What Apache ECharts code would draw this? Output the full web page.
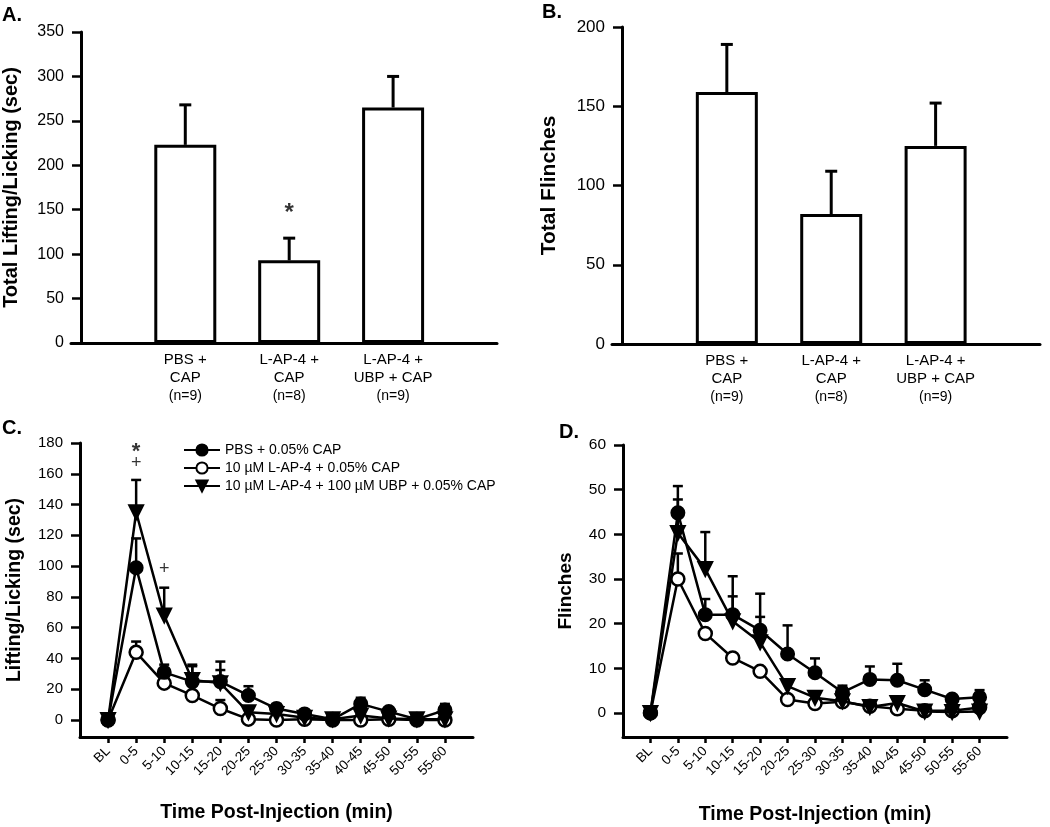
<!DOCTYPE html>
<html>
<head>
<meta charset="utf-8">
<script src="https://cdn.jsdelivr.net/npm/echarts@6/dist/echarts.min.js"></script>
<style>html,body{margin:0;padding:0;background:#fff}#c{width:1050px;height:827px}</style>
</head>
<body>
<div id="c"></div>
<script>
// ---- Data ----
const barCats = ['PBS +\nCAP\n(n=9)', 'L-AP-4 +\nCAP\n(n=8)', 'L-AP-4 +\nUBP + CAP\n(n=9)'];
const liftTotal = [223, 93, 265];
const liftTotalSem = [45, 25, 35];
const flinchTotal = [159, 82, 125];
const flinchTotalSem = [30, 27, 27];
const annotA = [[1, 146, '*']];

const timeLabels = ['BL','0-5','5-10','10-15','15-20','20-25','25-30','30-35','35-40','40-45','45-50','50-55','55-60'];
const seriesNames = ['PBS + 0.05% CAP', '10 \u00b5M L-AP-4 + 0.05% CAP', '10 \u00b5M L-AP-4 + 100 \u00b5M UBP + 0.05% CAP'];

const pbsLift     = [0, 99, 31, 25, 25, 16, 7.5, 4, 0.5, 10.5, 5.5, 0.5, 6.5];
const pbsLiftSem  = [0, 19, 5, 11, 7.5, 6, 3, 1.5, 0, 4, 2, 0, 4];
const lap4Lift    = [0, 44, 24, 16, 7.5, 0.6, 0, 0.5, 0, 0, 0.5, 0, 0];
const lap4LiftSem = [0, 7, 0, 0, 5.5, 0, 0, 0, 0, 0, 0, 0, 0];
const ubpLift     = [0, 135, 68, 26, 24, 5, 4, 1.5, 0.5, 3, 1, 0.5, 0.5];
const ubpLiftSem  = [0, 21, 18, 9, 14, 2, 1.5, 1, 0, 1, 0.5, 0, 0.5];
const annotC = [[1, 174, '*'], [1, 167, '+'], [2, 98, '+']];

const pbsFl     = [0, 44.8, 22, 22, 18.5, 13.2, 9, 4.6, 7.5, 7.3, 5.2, 3.1, 3.5];
const pbsFlSem  = [0, 6, 3.5, 8.6, 8.2, 6.4, 3.2, 1.5, 2.9, 3.7, 2.1, 0.5, 1.6];
const lap4Fl    = [0, 30, 17.8, 12.3, 9.3, 3, 2.1, 2.5, 1.5, 0.9, 0.5, 0.5, 1.2];
const lap4FlSem = [0, 5.7, 0, 0, 0, 0, 0, 0, 0, 0, 0, 0, 0];
const ubpFl     = [0, 40.3, 32.2, 20.5, 15.8, 6, 3.4, 2.6, 1.3, 2.2, 0.3, 0.2, 0.3];
const ubpFlSem  = [0, 7.5, 8.3, 5.6, 5.7, 1.1, 0.5, 0.5, 1.5, 0.6, 0, 0, 0];

// ---- Helpers ----
const FONT = '"Liberation Sans", Arial, sans-serif';
const idx = arr => arr.map((_, i) => i);
const pts = arr => arr.map((v, i) => [i, v]);
const errData = (m, s) => m.map((v, i) => [i, v, v + s[i]]).filter(d => d[2] > d[1]);

function errRender(capW, lw) {
  return function (params, api) {
    const x = api.value(0), lo = api.value(1), hi = api.value(2);
    const p0 = api.coord([x, lo]), p1 = api.coord([x, hi]);
    return {
      type: 'group',
      children: [
        { type: 'line', shape: { x1: p0[0], y1: p0[1], x2: p1[0], y2: p1[1] }, style: { stroke: '#000', lineWidth: lw } },
        { type: 'line', shape: { x1: p1[0] - capW / 2, y1: p1[1], x2: p1[0] + capW / 2, y2: p1[1] }, style: { stroke: '#000', lineWidth: lw } }
      ]
    };
  };
}

function barXAxis(gi) {
  return {
    type: 'value', gridIndex: gi, min: -1.1, max: 3,
    axisLine: { show: true, onZero: false, lineStyle: { color: '#000', width: 3 } },
    axisTick: { show: false }, splitLine: { show: false },
    axisLabel: {
      customValues: idx(barCats),
      formatter: v => {
        const lines = (barCats[Math.round(v)] || '').split('\n');
        return lines.map((l, i) => i === lines.length - 1 ? '{n|' + l + '}' : '{a|' + l + '}').join('\n');
      },
      rich: {
        a: { fontSize: 15, lineHeight: 18, color: '#000', fontFamily: FONT },
        n: { fontSize: 14, lineHeight: 18, color: '#000', fontFamily: FONT }
      },
      color: '#000', margin: 8, fontFamily: FONT
    }
  };
}
function yAx(gi, min, max, step, name, gap, offset, fs, nfs) {
  const vals = [];
  for (let v = Math.max(0, min); v <= max + 1e-9; v += step) vals.push(v);
  return {
    type: 'value', gridIndex: gi, min: min, max: max, offset: offset || 0,
    axisLine: { show: true, onZero: false, lineStyle: { color: '#000', width: 3 } },
    axisTick: { show: true, customValues: vals, length: 9, lineStyle: { color: '#000', width: 2.5 } },
    axisLabel: { customValues: vals, color: '#000', fontSize: fs, margin: 17, fontFamily: FONT },
    splitLine: { show: false },
    name: name, nameLocation: 'middle', nameGap: gap,
    nameTextStyle: { color: '#000', fontSize: nfs, fontWeight: 'bold', fontFamily: FONT }
  };
}
function timeXAxis(gi, gap) {
  return {
    type: 'value', gridIndex: gi, min: -1, max: 13,
    axisLine: { show: true, onZero: false, lineStyle: { color: '#000', width: 3 } },
    axisTick: { show: true, customValues: idx(timeLabels), length: 6, lineStyle: { color: '#000', width: 2.5 } },
    axisLabel: {
      customValues: idx(timeLabels), formatter: v => timeLabels[Math.round(v)] || '',
      rotate: 45, color: '#000', fontSize: 13.5, margin: 12, fontFamily: FONT
    },
    splitLine: { show: false },
    name: 'Time Post-Injection (min)', nameLocation: 'middle', nameGap: gap,
    nameTextStyle: { color: '#000', fontSize: 19.5, fontWeight: 'bold', fontFamily: FONT }
  };
}
function barSeries(gi, data) {
  return {
    type: 'bar', xAxisIndex: gi, yAxisIndex: gi, barWidth: 62, z: 3,
    data: pts(data),
    itemStyle: { color: '#fff', borderColor: '#000', borderWidth: 3 }
  };
}
function errSeries(gi, m, s, cap, lw, z) {
  return {
    type: 'custom', xAxisIndex: gi, yAxisIndex: gi, z: z,
    renderItem: errRender(cap, lw), data: errData(m, s), silent: true
  };
}
function annotSeries(gi, data, sizes) {
  return {
    type: 'scatter', xAxisIndex: gi, yAxisIndex: gi, symbolSize: 1, z: 10,
    itemStyle: { color: 'rgba(0,0,0,0)' }, silent: true,
    data: data.map(d => ({
      value: [d[0], d[1]],
      label: {
        show: true, position: 'inside', formatter: d[2], color: '#000', fontFamily: FONT,
        fontSize: d[2] === '*' ? sizes[0] : sizes[1], fontWeight: d[2] === '*' ? 'bold' : 'normal'
      }
    }))
  };
}
function lineSeries(gi, idxName, data, kind) {
  const s = {
    type: 'line', name: seriesNames[idxName], xAxisIndex: gi, yAxisIndex: gi,
    data: pts(data), symbolSize: 13, z: 5,
    lineStyle: { color: '#000', width: 2.5 },
    itemStyle: { color: '#000', borderColor: '#000', borderWidth: 2 }
  };
  if (kind === 'open') {
    s.symbol = 'circle';
    s.itemStyle = { color: '#fff', borderColor: '#000', borderWidth: 2.5 };
    s.z = 4;
  } else if (kind === 'tri') {
    s.symbol = 'triangle'; s.symbolRotate = 180; s.symbolSize = 14; s.z = 6;
  } else {
    s.symbol = 'circle'; s.z = 7;
  }
  return s;
}

const T = (text, left, top) => ({ text, left, top, padding: 0, textStyle: { fontSize: 20, fontWeight: 'bold', color: '#000', fontFamily: FONT } });

const chart = echarts.init(document.getElementById('c'), null, { renderer: 'canvas' });
chart.setOption({
  animation: false,
  backgroundColor: '#fff',
  textStyle: { fontFamily: FONT },
  title: [T('A.', 2, 5), T('B.', 542, 2), T('C.', 2, 418), T('D.', 559, 422)],
  legend: {
    left: 178, top: 438, orient: 'vertical', itemWidth: 36, itemHeight: 14, itemGap: 4,
    data: seriesNames, selectedMode: false,
    textStyle: { color: '#000', fontSize: 14, fontFamily: FONT }
  },
  grid: [
    { left: 70, top: 32, width: 427, height: 311 },
    { left: 612, top: 27, width: 428, height: 317 },
    { left: 80, top: 443, width: 393, height: 294 },
    { left: 623, top: 445, width: 384, height: 292 }
  ],
  xAxis: [barXAxis(0), barXAxis(1), timeXAxis(2, 66), timeXAxis(3, 68)],
  yAxis: [
    yAx(0, 0, 350, 50, 'Total Lifting/Licking (sec)', 60, -10, 16, 20),
    yAx(1, 0, 200, 50, 'Total Flinches', 62, -10, 17, 21),
    yAx(2, -11, 180, 20, 'Lifting/Licking (sec)', 55, 0, 15, 19.5),
    yAx(3, -5.4, 60, 10, 'Flinches', 48, 0, 15.5, 19)
  ],
  series: [
    errSeries(0, liftTotal, liftTotalSem, 12, 3, 2),
    barSeries(0, liftTotal),
    annotSeries(0, annotA, [24, 18]),
    errSeries(1, flinchTotal, flinchTotalSem, 12, 3, 2),
    barSeries(1, flinchTotal),

    errSeries(2, pbsLift, pbsLiftSem, 10, 2.5, 2),
    errSeries(2, lap4Lift, lap4LiftSem, 10, 2.5, 2),
    errSeries(2, ubpLift, ubpLiftSem, 10, 2.5, 2),
    lineSeries(2, 1, lap4Lift, 'open'),
    lineSeries(2, 2, ubpLift, 'tri'),
    lineSeries(2, 0, pbsLift, 'filled'),
    annotSeries(2, annotC, [22, 18]),

    errSeries(3, pbsFl, pbsFlSem, 10, 2.5, 2),
    errSeries(3, lap4Fl, lap4FlSem, 10, 2.5, 2),
    errSeries(3, ubpFl, ubpFlSem, 10, 2.5, 2),
    lineSeries(3, 1, lap4Fl, 'open'),
    lineSeries(3, 2, ubpFl, 'tri'),
    lineSeries(3, 0, pbsFl, 'filled')
  ]
});
</script>
</body>
</html>
